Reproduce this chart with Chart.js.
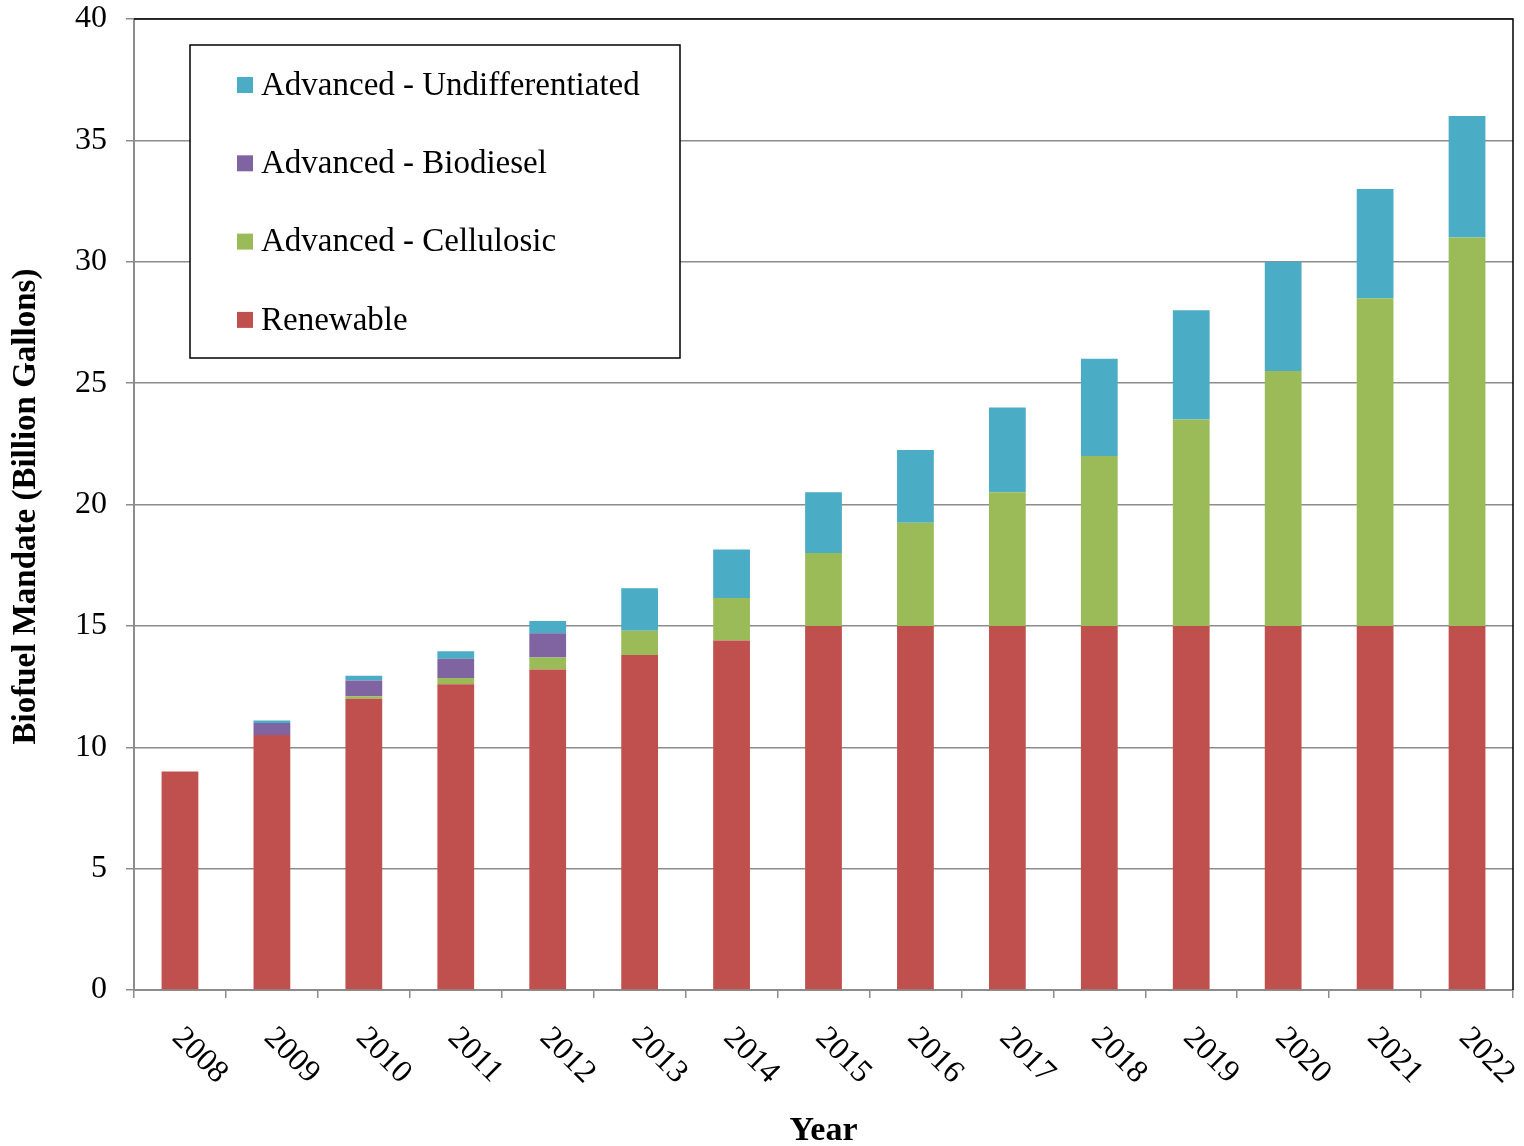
<!DOCTYPE html>
<html>
<head>
<meta charset="utf-8">
<script src="https://cdn.jsdelivr.net/npm/chart.js@4.4.1/dist/chart.umd.min.js"></script>
<style>
  html, body { margin: 0; padding: 0; background: #fff; }
  #wrap { width: 1524px; height: 1146px; }
</style>
</head>
<body>
<div id="wrap"><canvas id="c" width="1524" height="1146"></canvas></div>
<script>
// RFS biofuel mandate by year (billion gallons)
const years = ['2008','2009','2010','2011','2012','2013','2014','2015','2016','2017','2018','2019','2020','2021','2022'];
const renewable        = [9.0, 10.5, 12.0, 12.6, 13.2, 13.8, 14.4, 15, 15, 15, 15, 15, 15, 15, 15];
const cellulosic       = [null, null, 0.1, 0.25, 0.5, 1.0, 1.75, 3.0, 4.25, 5.5, 7.0, 8.5, 10.5, 13.5, 16.0];
const biodiesel        = [null, 0.5, 0.65, 0.8, 1.0, null, null, null, null, null, null, null, null, null, null];
const undifferentiated = [null, 0.1, 0.2, 0.3, 0.5, 1.75, 2.0, 2.5, 3.0, 3.5, 4.0, 4.5, 4.5, 4.5, 5.0];
const yTicks = [0, 5, 10, 15, 20, 25, 30, 35, 40];

const FONT = "'Liberation Serif', 'Times New Roman', serif";
const GRID = '#8c8c8c';

// Rotated category labels, axis titles, plot border and boxed legend
const decor = {
  id: 'decor',
  afterDraw(chart) {
    const ctx = chart.ctx;
    const x = chart.scales.x;
    const area = chart.chartArea;
    ctx.save();

    // plot border: top and right edges
    ctx.strokeStyle = '#000';
    ctx.lineWidth = 1.5;
    ctx.beginPath();
    ctx.moveTo(area.left, area.top);
    ctx.lineTo(area.right, area.top);
    ctx.lineTo(area.right, area.bottom);
    ctx.stroke();

    // category labels, rotated 45° clockwise
    ctx.fillStyle = '#000';
    ctx.font = '32px ' + FONT;
    ctx.textAlign = 'left';
    ctx.textBaseline = 'middle';
    years.forEach((lab, i) => {
      const px = x.getPixelForTick(i);
      ctx.save();
      ctx.translate(px - 3, area.bottom + 43);
      ctx.rotate(Math.PI / 4);
      ctx.fillText(lab, 0, 0);
      ctx.restore();
    });

    // axis titles
    ctx.font = 'bold 34px ' + FONT;
    ctx.textAlign = 'center';
    ctx.textBaseline = 'middle';
    ctx.fillText('Year', (area.left + area.right) / 2, 1131);
    ctx.font = 'bold 33px ' + FONT;
    ctx.save();
    ctx.translate(26, (area.top + area.bottom) / 2 + 2);
    ctx.rotate(-Math.PI / 2);
    ctx.fillText('Biofuel Mandate (Billion Gallons)', 0, 0);
    ctx.restore();

    // legend box (series listed top-down in stack order)
    const lx = 190, ly = 45, lw = 490, lh = 313;
    ctx.fillStyle = '#fff';
    ctx.fillRect(lx, ly, lw, lh);
    ctx.strokeStyle = '#000';
    ctx.lineWidth = 1.5;
    ctx.strokeRect(lx, ly, lw, lh);
    const ds = chart.data.datasets.slice().reverse();
    ctx.font = '33px ' + FONT;
    ctx.textAlign = 'left';
    ctx.textBaseline = 'middle';
    ds.forEach((d, i) => {
      const cy = 85 + i * 78.3;
      ctx.fillStyle = d.backgroundColor;
      ctx.fillRect(237, cy - 8, 16, 16);
      ctx.fillStyle = '#000';
      ctx.fillText(d.label, 261, cy + 1);
    });
    ctx.restore();
  }
};

new Chart(document.getElementById('c'), {
  type: 'bar',
  data: {
    labels: years,
    datasets: [
      { label: 'Renewable', data: renewable, backgroundColor: '#C0504D' },
      { label: 'Advanced - Cellulosic', data: cellulosic, backgroundColor: '#9BBB59' },
      { label: 'Advanced - Biodiesel', data: biodiesel, backgroundColor: '#8064A2' },
      { label: 'Advanced - Undifferentiated', data: undifferentiated, backgroundColor: '#4BACC6' }
    ]
  },
  options: {
    responsive: false,
    animation: false,
    devicePixelRatio: 1,
    layout: { padding: { top: 19, right: 11, left: 0, bottom: 0 } },
    datasets: {
      bar: {
        barPercentage: 0.4,
        categoryPercentage: 1.0,
        borderWidth: 0,
        borderSkipped: false
      }
    },
    plugins: {
      legend: { display: false },
      tooltip: { enabled: false },
      title: { display: false }
    },
    scales: {
      x: {
        stacked: true,
        offset: true,
        grid: {
          offset: true,
          drawOnChartArea: false,
          drawTicks: true,
          tickLength: 8,
          color: GRID,
          lineWidth: 1.5
        },
        border: { display: true, color: GRID, width: 2 },
        ticks: { color: 'rgba(0,0,0,0)', maxRotation: 0, minRotation: 0, autoSkip: false, font: { size: 10 } },
        afterFit(scale) {
          scale.height = 156;
          scale.paddingLeft = 0;
          scale.paddingRight = 0;
        }
      },
      y: {
        stacked: true,
        min: 0,
        max: 40,
        afterBuildTicks(scale) { scale.ticks = yTicks.map(v => ({ value: v })); },
        grid: {
          color: GRID,
          lineWidth: 1.5,
          tickLength: 8,
          drawTicks: true
        },
        border: { display: true, color: GRID, width: 2 },
        ticks: {
          color: '#000',
          padding: 19,
          font: { family: FONT, size: 32 }
        },
        afterFit(scale) {
          scale.width = 134;
          scale.paddingTop = 0;
          scale.paddingBottom = 0;
        }
      }
    }
  },
  plugins: [decor]
});
</script>
</body>
</html>
